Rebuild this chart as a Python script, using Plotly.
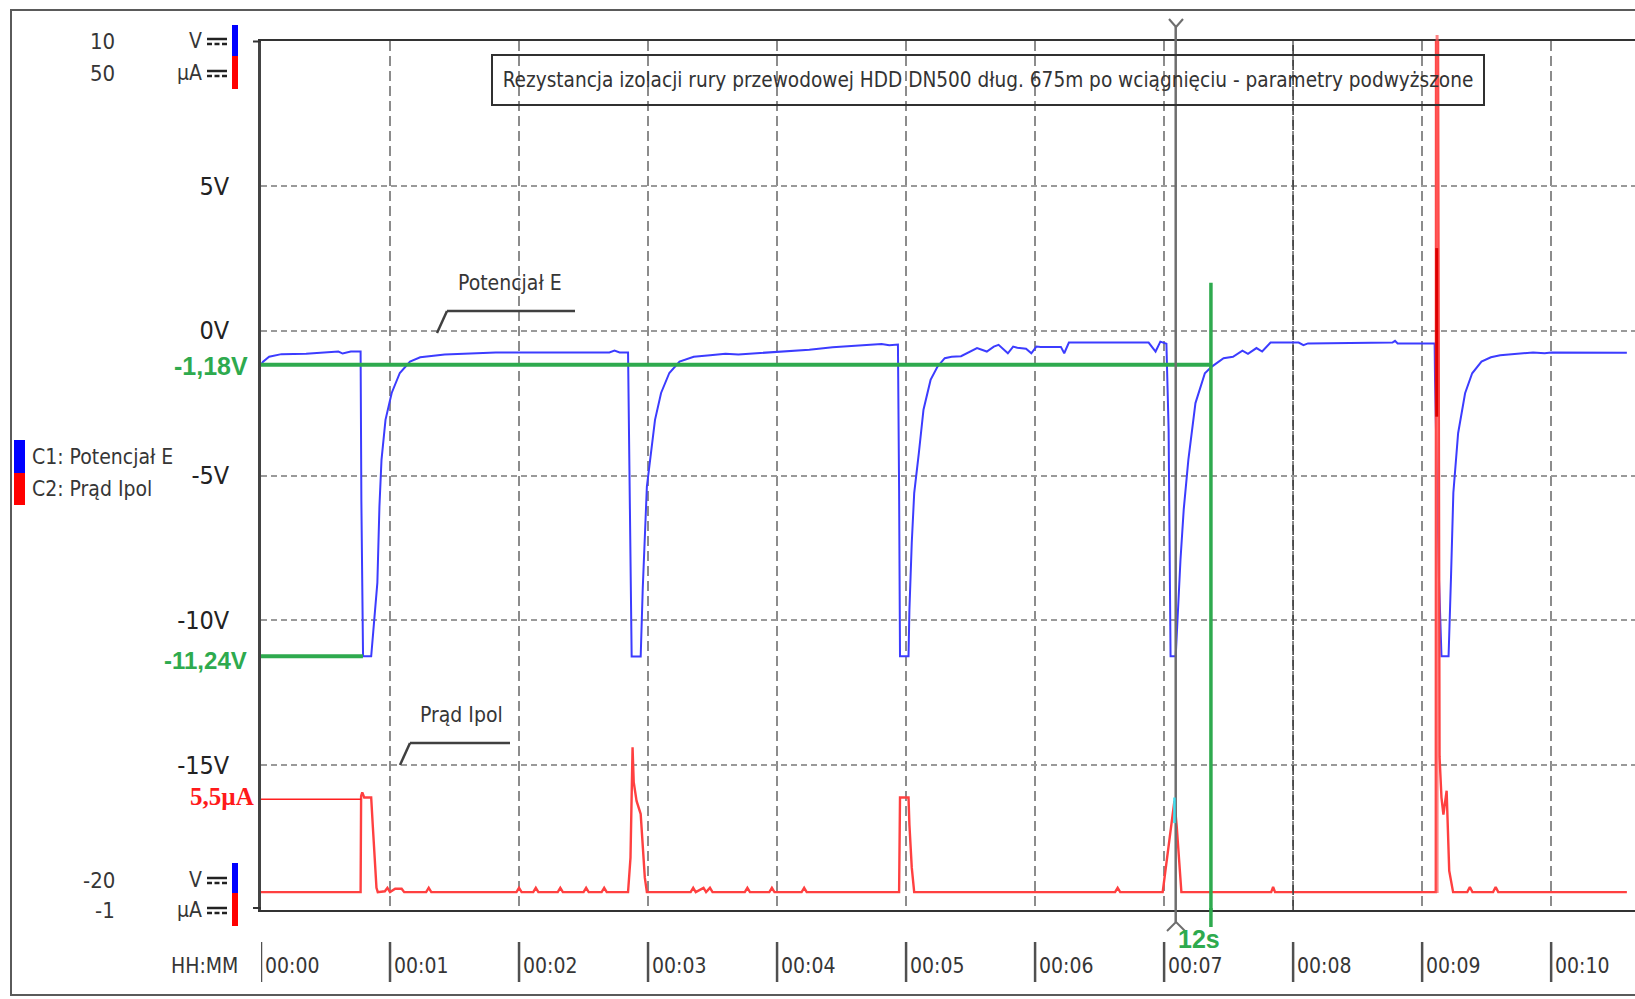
import plotly.graph_objects as go

# ---------------- data ----------------
# C1: Potencjał E  [minutes, volts]
E_T = [0.0, 0.016, 0.063, 0.158, 0.35, 0.538, 0.60, 0.633, 0.696, 0.772, 0.778, 0.791, 0.854,
       0.870, 0.902, 0.918, 0.934, 0.965, 1.013, 1.076, 1.155, 1.234, 1.424, 1.82, 2.70, 2.74,
       2.78, 2.845, 2.852, 2.862, 2.873, 2.943, 2.959, 2.991, 3.022, 3.054, 3.101, 3.165, 3.244,
       3.354, 3.481, 3.6, 3.7, 3.797, 3.95, 4.114, 4.25, 4.43, 4.6, 4.81, 4.87, 4.937, 4.946,
       4.953, 5.019, 5.026, 5.044, 5.063, 5.099, 5.135, 5.19, 5.244, 5.30, 5.353, 5.426, 5.50,
       5.55, 5.626, 5.68, 5.717, 5.789, 5.83, 5.862, 5.93, 5.971, 6.01, 6.044, 6.20, 6.226,
       6.262, 6.88, 6.934, 6.971, 7.018, 7.035, 7.05, 7.09, 7.127, 7.152, 7.188, 7.243, 7.316,
       7.37, 7.461, 7.534, 7.607, 7.65, 7.716, 7.76, 7.825, 8.043, 8.08, 8.115, 8.77, 8.79,
       8.81, 9.097, 9.100, 9.13, 9.15, 9.205, 9.224, 9.242, 9.279, 9.333, 9.388, 9.46, 9.533,
       9.605, 9.86, 9.95, 10.0, 10.2, 10.587]
E_V = [-1.18, -1.07, -0.90, -0.81, -0.80, -0.75, -0.72, -0.79, -0.72, -0.72, -5.9, -11.24, -11.24,
       -10.4, -8.7, -6.07, -4.46, -3.08, -2.15, -1.46, -1.07, -0.92, -0.82, -0.75, -0.75, -0.69,
       -0.75, -0.75, -3.3, -8.7, -11.25, -11.25, -8.9, -5.38, -4.23, -3.08, -2.15, -1.46, -1.07,
       -0.90, -0.85, -0.80, -0.82, -0.79, -0.75, -0.71, -0.66, -0.57, -0.52, -0.46, -0.50, -0.48, -5.5,
       -11.24, -11.24, -9.63, -7.33, -5.61, -4.23, -2.73, -1.70, -1.24, -0.95, -0.90, -0.88, -0.72,
       -0.60, -0.72, -0.55, -0.49, -0.78, -0.55, -0.59, -0.62, -0.78, -0.55, -0.56, -0.56, -0.78,
       -0.41, -0.41, -0.72, -0.38, -0.45, -3.4, -11.24, -11.24, -7.91, -6.18, -4.46, -2.5, -1.47,
       -1.24, -0.95, -0.90, -0.69, -0.80, -0.60, -0.72, -0.41, -0.41, -0.50, -0.44, -0.41, -0.35,
       -0.44, -0.44, -1.7, -8.5, -11.24, -11.24, -8.48, -5.6, -3.54, -2.16, -1.47, -1.07, -0.92,
       -0.85, -0.75, -0.78, -0.75, -0.76, -0.76]

# C2: Prąd Ipol  [minutes, microamps]
I_T = [0.0, 0.772, 0.776, 0.785, 0.80, 0.854, 0.866, 0.882, 0.895, 0.905, 0.96, 0.98, 1.0, 1.04,
       1.09, 1.11, 1.28, 1.30, 1.32, 1.98, 2.0, 2.02, 2.11, 2.13, 2.15, 2.30, 2.32, 2.34, 2.50,
       2.52, 2.54, 2.64, 2.66, 2.68, 2.845, 2.864, 2.873, 2.88, 2.889, 2.911, 2.943, 2.959, 2.975,
       2.991, 3.33, 3.35, 3.37, 3.43, 3.45, 3.48, 3.50, 3.75, 3.77, 3.79, 3.94, 3.96, 3.98, 4.19,
       4.21, 4.23, 4.946, 4.953, 5.019, 5.026, 5.044, 5.063, 6.62, 6.64, 6.66, 6.989, 7.007,
       7.055, 7.08, 7.098, 7.116, 7.134, 7.83, 7.845, 7.86, 9.106, 9.108, 9.122, 9.135, 9.15,
       9.165, 9.19, 9.21, 9.24, 9.35, 9.37, 9.39, 9.55, 9.57, 9.59, 10.587]
I_UA = [0.05, 0.05, 5.7, 5.9, 5.6, 5.6, 4.0, 1.5, 0.3, 0.05, 0.1, 0.3, 0.05, 0.25,
        0.25, 0.05, 0.05, 0.3, 0.05, 0.05, 0.3, 0.05, 0.05, 0.3, 0.05, 0.05, 0.3, 0.05, 0.05,
        0.3, 0.05, 0.05, 0.3, 0.05, 0.05, 2.07, 6.4, 8.55, 6.5, 5.4, 4.63, 2.86, 0.9,
        0.05, 0.05, 0.3, 0.05, 0.3, 0.05, 0.3, 0.05, 0.05, 0.3, 0.05, 0.05, 0.3, 0.05, 0.05,
        0.3, 0.05, 0.05, 5.6, 5.6, 4.0, 1.5, 0.05, 0.05, 0.3, 0.05, 0.05, 1.1,
        4.23, 5.4, 3.9, 1.8, 0.05, 0.05, 0.35, 0.05, 0.05, 55.0, 55.0, 8.0, 5.6,
        4.6, 6.0, 1.3, 0.05, 0.05, 0.35, 0.05, 0.05, 0.35, 0.05, 0.05]

X_TICKS = [0, 1, 2, 3, 4, 5, 6, 7, 8, 9, 10]
X_TICK_LABELS = ["00:00", "00:01", "00:02", "00:03", "00:04", "00:05",
                 "00:06", "00:07", "00:08", "00:09", "00:10"]
Y_TICKS = [5, 0, -5, -10, -15]
Y_TICK_LABELS = ["5V", "0V", "-5V", "-10V", "-15V"]
V_RANGE = [-20, 10]
I_RANGE = [-1, 50]
X_RANGE = [0, 10.65]

E_MARK_HIGH = -1.18      # V
E_MARK_LOW = -11.24      # V
I_MARK = 5.5             # µA
T_MARK_LOW = 0.79        # min
T_MARK_I = 0.776         # min
T_CURSOR = 7.09          # min
T_GREEN = 7.363          # min
GREEN_TOP_V = 1.65       # V
T_RED_CURSOR = 9.116     # min
RED_DARK_V = [2.85, -2.97]
CURSOR_I_SPAN = [5.6, 4.1]   # µA, highlighted part of C2 at the gray cursor

TITLE = ("Rezystancja izolacji rury przewodowej HDD DN500 dług. 675m po "
         "wciągnięciu - parametry podwyższone")

# ---------------- layout helpers ----------------
W, H = 1635, 999
L, R, T, B = 261, 0, 41, 89
PW, PH = W - L - R, H - T - B


def px(x):
    return (x - L) / PW


def py(y):
    return (H - B - y) / PH


COND = "DejaVu Sans Condensed, Liberation Sans Narrow, Liberation Sans, sans-serif"
SANS = "Liberation Sans, Arial, sans-serif"
SERIF = "Liberation Serif, Times New Roman, serif"
TXT = "#363636"
GREEN = "#2eaa4e"
BLUE = "#3c3cff"
RED = "#ff4040"

fig = go.Figure()
fig.add_trace(go.Scatter(x=E_T, y=E_V, mode="lines", line=dict(color=BLUE, width=2),
                         name="C1: Potencjał E", hoverinfo="skip"))
fig.add_trace(go.Scatter(x=I_T, y=I_UA, mode="lines", line=dict(color=RED, width=2.4),
                         name="C2: Prąd Ipol", yaxis="y2", hoverinfo="skip"))

shapes = []
ann = []


def pline(x0, y0, x1, y1, color, width, dash=None, xref="paper", yref="paper"):
    d = dict(type="line", xref=xref, yref=yref, x0=x0, y0=y0, x1=x1, y1=y1,
             line=dict(color=color, width=width))
    if dash:
        d["line"]["dash"] = dash
    shapes.append(d)


def text(x, y, s, size, color=TXT, family=COND, anchor="left"):
    ann.append(dict(x=px(x), y=py(y), xref="paper", yref="paper", text=s, showarrow=False,
                    xanchor=anchor, yanchor="middle",
                    font=dict(family=family, size=size, color=color)))


# outer frame
shapes.append(dict(type="rect", xref="paper", yref="paper", x0=px(11), x1=px(1660),
                   y0=py(995), y1=py(10), line=dict(color="#5a5a5a", width=2)))
# axis line extensions on the left
pline(px(253), py(41.5), px(261), py(41.5), "#333", 2)
pline(px(253), py(908), px(261), py(908), "#333", 2)
# darker dashed gridline at 00:08
pline(8, 0, 8, 1, "#404040", 1.6, dash="10px,5px", xref="x")

# green marker lines
pline(0, E_MARK_HIGH, T_GREEN, E_MARK_HIGH, GREEN, 4, xref="x", yref="y")
pline(0, E_MARK_LOW, T_MARK_LOW, E_MARK_LOW, GREEN, 4, xref="x", yref="y")
pline(T_GREEN, GREEN_TOP_V, T_GREEN, V_RANGE[0], GREEN, 3.5, xref="x", yref="y")
pline(T_GREEN, py(908), T_GREEN, py(927), GREEN, 3.5, xref="x")
# red 5,5µA marker
pline(0, I_MARK, T_MARK_I, I_MARK, "#ff2020", 1.5, xref="x", yref="y2")

# gray cursor with Y / ^ glyphs
pline(T_CURSOR, py(27), T_CURSOR, py(922), "#6e6e6e", 2.5, xref="x")
pline(px(1169), py(19), px(1176), py(27), "#6e6e6e", 2)
pline(px(1183), py(19), px(1176), py(27), "#6e6e6e", 2)
pline(px(1167), py(931), px(1176), py(922), "#6e6e6e", 2)
pline(px(1185), py(931), px(1176), py(922), "#6e6e6e", 2)
# highlighted C2 values at the gray cursor
pline(T_CURSOR - 0.01, CURSOR_I_SPAN[0], T_CURSOR - 0.01, CURSOR_I_SPAN[1], "#40e0f0", 2.5,
      xref="x", yref="y2")

# red cursor
pline(T_RED_CURSOR, py(35), T_RED_CURSOR, py(893), "rgba(255,90,90,0.75)", 3, xref="x")
pline(T_RED_CURSOR - 0.003, RED_DARK_V[0], T_RED_CURSOR - 0.003, RED_DARK_V[1], "#dd0000", 3,
      xref="x", yref="y")

# x tick bars and labels
for t, lab in zip(X_TICKS, X_TICK_LABELS):
    pline(t, py(942), t, py(982), "#505050", 2.5, xref="x")
    ann.append(dict(x=t, xref="x", y=py(966), yref="paper", text=lab, showarrow=False,
                    xanchor="left", yanchor="middle", xshift=2,
                    font=dict(family=COND, size=21, color=TXT)))
text(240, 966, "HH:MM", 21, anchor="right")

# title box
ann.append(dict(x=px(987.5), y=py(80), xref="paper", yref="paper", text=TITLE, showarrow=False,
                xanchor="center", yanchor="middle", width=990, height=48, borderpad=0,
                bordercolor="#303030", borderwidth=2,
                font=dict(family=COND, size=20.6, color="#333")))

# trace labels with leaders
text(510, 283, "Potencjał E", 21, anchor="center")
pline(px(447), py(311), px(575), py(311), "#404040", 2.5)
pline(px(447), py(311), px(437), py(333), "#404040", 2.5)
text(461, 715, "Prąd Ipol", 21, anchor="center")
pline(px(410), py(743), px(510), py(743), "#404040", 2.5)
pline(px(410), py(743), px(400), py(765), "#404040", 2.5)

# marker value labels
text(250, 366, "<b>-1,18V</b>", 25, color=GREEN, family=SANS, anchor="right")
text(249, 660, "<b>-11,24V</b>", 24, color=GREEN, family=SANS, anchor="right")
text(256, 797, "<b>5,5µA</b>", 25, color="#ff1a1a", family=SERIF, anchor="right")
text(1199, 939, "<b>12s</b>", 25, color=GREEN, family=SANS, anchor="center")

# left legend
shapes.append(dict(type="rect", xref="paper", yref="paper", x0=px(14), x1=px(25),
                   y0=py(473), y1=py(440), fillcolor="#0000ff", line=dict(width=0)))
shapes.append(dict(type="rect", xref="paper", yref="paper", x0=px(14), x1=px(25),
                   y0=py(505), y1=py(473), fillcolor="#ff0000", line=dict(width=0)))
text(30, 457, "C1: Potencjał E", 21)
text(30, 489, "C2: Prąd Ipol", 21)

# scale boxes (top and bottom)
for (v_txt, i_txt, yv, yi, bar_top, bar_mid, bar_bot) in [
        ("10", "50", 41, 73, 25, 56, 89),
        ("-20", "-1", 880, 910, 863, 893, 926)]:
    text(117, yv, v_txt, 22, anchor="right")
    text(117, yi, i_txt, 22, anchor="right")
    text(204, yv, "V", 21, anchor="right")
    text(204, yi, "µA", 21, anchor="right")
    for yc in (yv, yi):
        pline(px(207), py(yc - 2), px(227), py(yc - 2), "#222", 2.5)
        for xs in (207, 214.5, 222):
            pline(px(xs), py(yc + 3), px(xs + 5), py(yc + 3), "#222", 2.5)
    shapes.append(dict(type="rect", xref="paper", yref="paper", x0=px(232), x1=px(238),
                       y0=py(bar_mid), y1=py(bar_top), fillcolor="#0000ff", line=dict(width=0)))
    shapes.append(dict(type="rect", xref="paper", yref="paper", x0=px(232), x1=px(238),
                       y0=py(bar_bot), y1=py(bar_mid), fillcolor="#ff0000", line=dict(width=0)))

fig.update_layout(
    width=W, height=H,
    margin=dict(l=L, r=R, t=T, b=B, pad=0),
    paper_bgcolor="white", plot_bgcolor="white",
    showlegend=False,
    shapes=shapes,
    annotations=ann,
    xaxis=dict(range=X_RANGE, tickvals=X_TICKS, showticklabels=False, ticks="",
               showgrid=True, gridcolor="#8c8c8c", gridwidth=1.5, griddash="10px,5px",
               zeroline=False, showline=True, mirror=True, linecolor="#333", linewidth=2),
    yaxis=dict(range=V_RANGE, tickvals=Y_TICKS, ticktext=Y_TICK_LABELS, ticks="",
               ticklabelstandoff=24,
               tickfont=dict(family=COND, size=25, color="#222"),
               showgrid=True, gridcolor="#9a9a9a", gridwidth=1.5, griddash="6px,4px",
               zeroline=False, showline=True, linecolor="#444", linewidth=2.5),
    yaxis2=dict(range=I_RANGE, overlaying="y", visible=False, showgrid=False, zeroline=False),
)

fig.write_html("out.html")
